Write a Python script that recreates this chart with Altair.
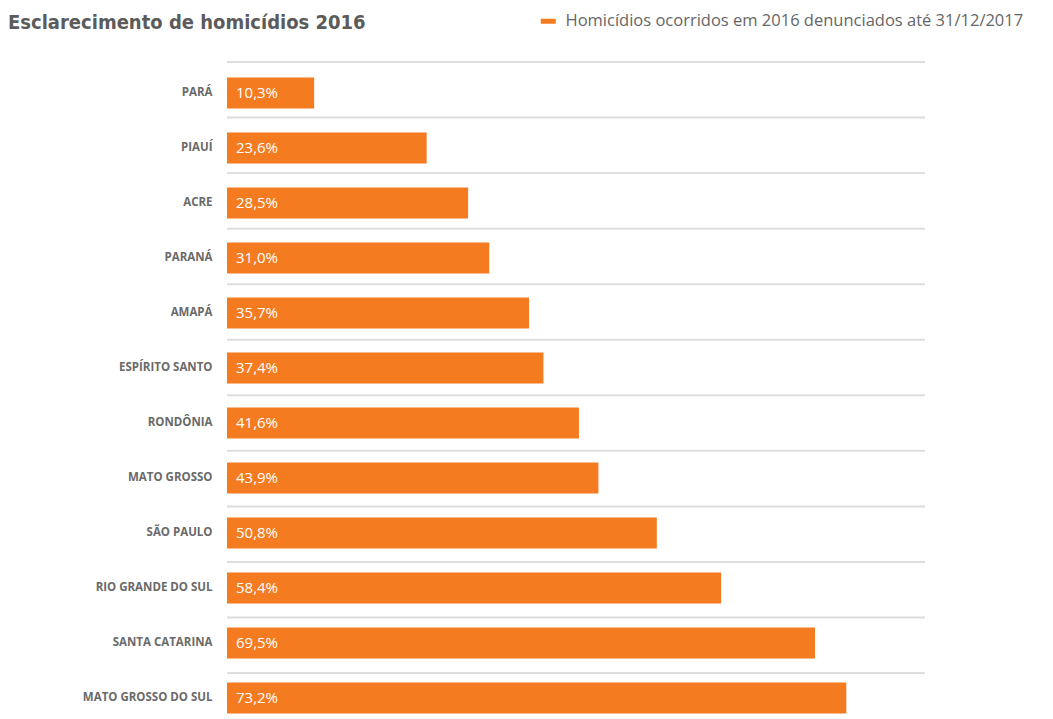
import altair as alt
import pandas as pd

states = ["PARÁ", "PIAUÍ", "ACRE", "PARANÁ", "AMAPÁ", "ESPÍRITO SANTO", "RONDÔNIA",
          "MATO GROSSO", "SÃO PAULO", "RIO GRANDE DO SUL", "SANTA CATARINA", "MATO GROSSO DO SUL"]
values = [10.3, 23.6, 28.5, 31.0, 35.7, 37.4, 41.6, 43.9, 50.8, 58.4, 69.5, 73.2]
series_name = "Homicídios ocorridos em 2016 denunciados até 31/12/2017"
title_text = "Esclarecimento de homicídios 2016"

ORANGE = "#F47B20"

df = pd.DataFrame({"estado": states, "valor": values, "serie": series_name})

x_scale = alt.Scale(domain=[0, 82.5], nice=False, zero=True)

grid = alt.Chart(df).mark_rule(color="#dedede", strokeWidth=2).encode(
    y=alt.Y("estado:N", sort=states, bandPosition=0,
            scale=alt.Scale(range=[0, 666.6], paddingInner=0, paddingOuter=0), axis=None),
    x=alt.datum(0, scale=x_scale),
    x2=alt.datum(82.5),
)

y_bar = alt.Y("estado:N", sort=states, title=None,
              scale=alt.Scale(range=[3.5, 663.5], paddingInner=0, paddingOuter=0),
              axis=alt.Axis(ticks=False, domain=False, grid=False, labelPadding=15,
                            labelFont="Open Sans", labelFontWeight="bold", labelFontSize=11.5,
                            labelColor="#6a6a6a", labelLimit=0))

bars = alt.Chart(df).mark_bar(size=31).encode(
    y=y_bar,
    x=alt.X("valor:Q", scale=x_scale, axis=None),
    color=alt.Color("serie:N", scale=alt.Scale(domain=[series_name], range=[ORANGE]),
                    legend=alt.Legend(orient="none", legendX=313, legendY=-49, title=None,
                                      symbolType="M-1,-0.333H1V0.333H-1Z", symbolSize=225,
                                      symbolStrokeWidth=0, symbolOpacity=1,
                                      labelFont="Open Sans", labelFontSize=16.5,
                                      labelColor="#666666", labelOffset=9, padding=0,
                                      labelLimit=0)),
)

labels = alt.Chart(df).transform_calculate(
    rotulo="replace(format(datum.valor, '.1f'), '.', ',') + '%'"
).mark_text(align="left", baseline="middle", dx=9, color="white",
            font="Open Sans", fontSize=15).encode(
    y=y_bar,
    x=alt.datum(0, scale=x_scale),
    text="rotulo:N",
)

chart = alt.layer(grid, alt.layer(bars, labels)).resolve_scale(y="independent").properties(
    width=698, height=650,
    autosize=alt.AutoSizeParams(type="none"),
    padding={"left": 219, "top": 54, "right": 120, "bottom": 4},
    title=alt.TitleParams(title_text, anchor="start", frame="group",
                          font="'DejaVu Sans Condensed', Roboto, sans-serif",
                          fontSize=20, fontWeight="bold", color="#5b5b5b",
                          dx=-219, dy=30, offset=10),
).configure_view(stroke=None)

chart.save("out.html", embed_options={"renderer": "svg", "actions": False})
